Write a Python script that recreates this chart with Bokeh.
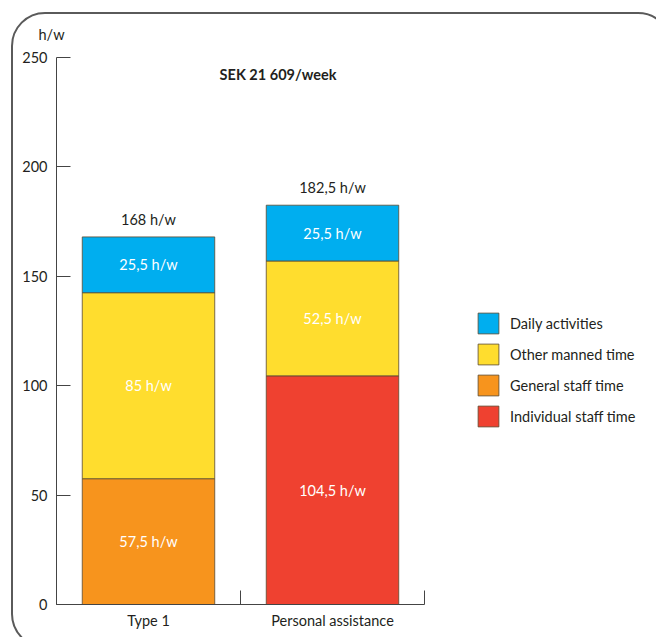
from bokeh.plotting import figure
from bokeh.models import (Range1d, FixedTicker, Legend, LegendItem, Label, InlineStyleSheet)
from bokeh.core.properties import value
from bokeh.embed import file_html
from bokeh.resources import INLINE

# ---- data ----
categories = ["Type 1", "Personal assistance"]
series_names = ["Individual staff time", "General staff time", "Other manned time", "Daily activities"]
individual_staff = [0, 104.5]
general_staff = [57.5, 0]
other_manned = [85, 52.5]
daily_activities = [25.5, 25.5]
colors = ["#EF4130", "#F7941D", "#FFDD2E", "#00AEEF"]
y_ticks = [0, 50, 100, 150, 200, 250]
title_text = "SEK 21 609/week"
unit_text = "h/w"

FONT = "Lato"
FS = "14.5px"

def fmt(v):
    return f"{v:g}".replace(".", ",") + " h/w"

series = [individual_staff, general_staff, other_manned, daily_activities]
n = len(categories)
xs = [i + 0.5 for i in range(n)]

frame_css = InlineStyleSheet(css="""
:host { position: relative; overflow: hidden; }
:host::after {
  content: ''; position: absolute; left: 11px; top: 12px; width: 661px; height: 636px;
  border: 2px solid #5a5a5a; border-radius: 34px; pointer-events: none; box-sizing: border-box;
}
""")

# frame spans 56..650 px; the category axis covers 0..n (56..424 px)
x_end = n * (650 - 56) / (424 - 56)

p = figure(width=656, height=637, output_backend="svg", toolbar_location=None,
           x_range=Range1d(0, x_end), y_range=Range1d(0, 250),
           min_border_left=56, min_border_right=6, min_border_top=57, min_border_bottom=33,
           title=unit_text, stylesheets=[frame_css])
p.outline_line_color = None
p.grid.grid_line_color = None
p.background_fill_color = "white"
p.border_fill_color = "white"

p.title.text_font = FONT
p.title.text_font_size = FS
p.title.text_font_style = "normal"
p.title.text_color = "#231f20"
p.title.align = "left"
p.title.offset = -18
p.title.standoff = 30

# stacked bars
renderers = {}
for xi, x in enumerate(xs):
    bottom = 0
    for si, s in enumerate(series):
        v = s[xi]
        if v > 0:
            r = p.vbar(x=[x], bottom=[bottom], top=[bottom + v], width=0.72,
                       fill_color=colors[si], line_color="#5a4a30", line_width=1, line_alpha=0.8)
            renderers.setdefault(si, r)
            p.text(x=[x], y=[bottom + v / 2], text=[fmt(v)], text_color="white",
                   text_font=value(FONT), text_font_size=FS,
                   text_align="center", text_baseline="middle")
        bottom += v
    p.text(x=[x], y=[bottom], text=[fmt(bottom)], text_color="#231f20",
           text_font=value(FONT), text_font_size=FS,
           text_align="center", text_baseline="bottom", y_offset=-9)

# axes
ya = p.yaxis[0]
ya.ticker = FixedTicker(ticks=y_ticks)
ya.major_tick_in = 14
ya.major_tick_out = 0
ya.minor_tick_line_color = None
ya.axis_line_color = "#444"
ya.major_tick_line_color = "#444"
ya.major_label_standoff = 9
ya.major_label_text_font = FONT
ya.major_label_text_font_size = FS
ya.major_label_text_color = "#231f20"

xa = p.xaxis[0]
xa.bounds = (0, n)
xa.ticker = FixedTicker(ticks=xs, minor_ticks=list(range(n + 1)))
xa.major_label_overrides = {x: c for x, c in zip(xs, categories)}
xa.major_tick_line_color = None
xa.major_tick_in = 0
xa.major_tick_out = 0
xa.minor_tick_in = 14
xa.minor_tick_out = 0
xa.minor_tick_line_color = "#444"
xa.axis_line_color = "#444"
xa.major_label_standoff = 7
xa.major_label_text_font = FONT
xa.major_label_text_font_size = FS
xa.major_label_text_color = "#231f20"

# title label
p.add_layout(Label(x=1.204, y=242.2, text=title_text, text_font=FONT, text_font_size=FS,
                   text_font_style="bold", text_align="center", text_baseline="middle",
                   text_color="#231f20"))

# legend
items = [LegendItem(label=series_names[i], renderers=[renderers[i]]) for i in [3, 2, 1, 0]]
legend = Legend(items=items, location=(419, 175), glyph_width=26, glyph_height=26,
                spacing=5, label_standoff=9, padding=0, margin=0, border_line_color=None,
                background_fill_alpha=0, label_text_font=FONT, label_text_font_size=FS,
                label_text_color="#231f20")
p.add_layout(legend, "center")

open("out.html", "w").write(file_html(p, INLINE))
